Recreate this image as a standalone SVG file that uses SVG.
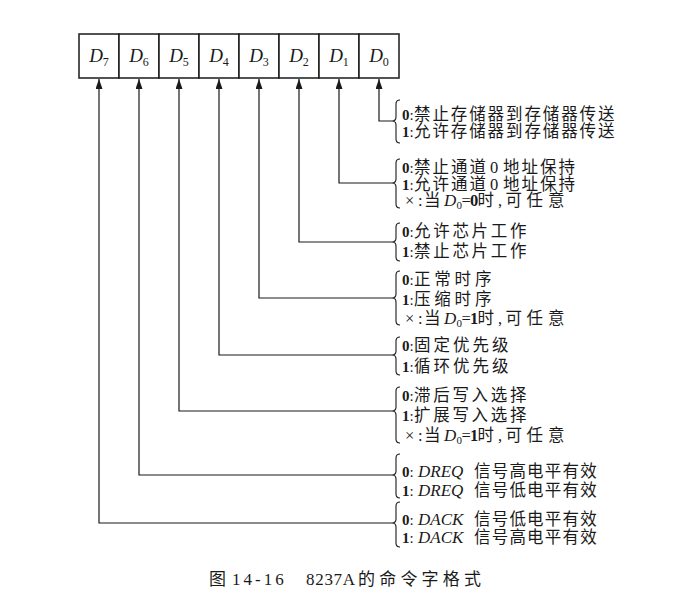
<svg xmlns="http://www.w3.org/2000/svg" width="679" height="613" viewBox="0 0 679 613">
<style>
.cell{fill:#fff;stroke:#1a1a1a;stroke-width:1.5}
.bitlabel{font-family:"Liberation Serif",serif;font-style:italic;font-size:19px;fill:#1a1a1a}
.sub{font-size:12px;font-style:normal}
.conn{fill:none;stroke:#1a1a1a;stroke-width:1.2}
.brace{fill:none;stroke:#1a1a1a;stroke-width:1.1}
.t{font-family:"Liberation Serif","Noto Sans CJK SC",serif;font-size:16.5px;fill:#1a1a1a}
.k{font-weight:bold;font-size:15px}
.kc{font-size:15px}
.b{font-weight:bold}
.c{font-family:"Noto Sans CJK SC",sans-serif}
.i{font-style:italic;font-size:17px}
.s{font-size:11px}
.cap{font-family:"Liberation Serif","Noto Sans CJK SC",serif;font-size:17px;fill:#1a1a1a}
.capc{font-family:"Noto Sans CJK SC",sans-serif;font-size:17px}
</style>
<defs>
<marker id="arr" markerUnits="userSpaceOnUse" markerWidth="10" markerHeight="7" refX="10" refY="3.5" orient="auto">
<path d="M0,0 L10,3.5 L0,7 z" fill="#1a1a1a"/>
</marker>
</defs>

<g id="register">
<g id="bit-D7"><rect class="cell" x="79" y="34" width="40" height="44"/><text class="bitlabel" x="99" y="62" text-anchor="middle">D<tspan class="sub" dy="4">7</tspan></text></g>
<g id="bit-D6"><rect class="cell" x="119" y="34" width="40" height="44"/><text class="bitlabel" x="139" y="62" text-anchor="middle">D<tspan class="sub" dy="4">6</tspan></text></g>
<g id="bit-D5"><rect class="cell" x="159" y="34" width="40" height="44"/><text class="bitlabel" x="179" y="62" text-anchor="middle">D<tspan class="sub" dy="4">5</tspan></text></g>
<g id="bit-D4"><rect class="cell" x="199" y="34" width="40" height="44"/><text class="bitlabel" x="219" y="62" text-anchor="middle">D<tspan class="sub" dy="4">4</tspan></text></g>
<g id="bit-D3"><rect class="cell" x="239" y="34" width="40" height="44"/><text class="bitlabel" x="259" y="62" text-anchor="middle">D<tspan class="sub" dy="4">3</tspan></text></g>
<g id="bit-D2"><rect class="cell" x="279" y="34" width="40" height="44"/><text class="bitlabel" x="299" y="62" text-anchor="middle">D<tspan class="sub" dy="4">2</tspan></text></g>
<g id="bit-D1"><rect class="cell" x="319" y="34" width="40" height="44"/><text class="bitlabel" x="339" y="62" text-anchor="middle">D<tspan class="sub" dy="4">1</tspan></text></g>
<g id="bit-D0"><rect class="cell" x="359" y="34" width="40" height="44"/><text class="bitlabel" x="379" y="62" text-anchor="middle">D<tspan class="sub" dy="4">0</tspan></text></g>
</g>

<g id="connectors">
<path class="conn" d="M392,121 H379 V79" marker-end="url(#arr)"/>
<path class="conn" d="M392,183 H339 V79" marker-end="url(#arr)"/>
<path class="conn" d="M392,242 H299 V79" marker-end="url(#arr)"/>
<path class="conn" d="M392,298 H259 V79" marker-end="url(#arr)"/>
<path class="conn" d="M392,355 H219 V79" marker-end="url(#arr)"/>
<path class="conn" d="M392,411 H179 V79" marker-end="url(#arr)"/>
<path class="conn" d="M392,475 H139 V79" marker-end="url(#arr)"/>
<path class="conn" d="M392,523 H99 V79" marker-end="url(#arr)"/>
</g>

<g id="desc-D0">
<path class="brace" d="M400,100 Q396,100 396,104 V117 Q396,121 392,121 Q396,121 396,125 V139 Q396,143 400,143"/>
<text class="t" x="402" y="120"><tspan class="k">0</tspan><tspan class="kc">:</tspan><tspan class="c" x="414 432.4 450.8 469.2 487.6 506 524.4 542.8 561.2 579.6 598">禁止存储器到存储器传送</tspan></text>
<text class="t" x="402" y="137"><tspan class="k">1</tspan><tspan class="kc">:</tspan><tspan class="c" x="414 432.4 450.8 469.2 487.6 506 524.4 542.8 561.2 579.6 598">允许存储器到存储器传送</tspan></text>
</g>

<g id="desc-D1">
<path class="brace" d="M400,159 Q396,159 396,163 V179 Q396,183 392,183 Q396,183 396,187 V204 Q396,208 400,208"/>
<text class="t" x="402" y="173"><tspan class="k">0</tspan><tspan class="kc">:</tspan><tspan class="c" x="414 432.5 451 469.5">禁止通道</tspan><tspan x="490">0</tspan><tspan class="c" x="503 521.5 540 558.5">地址保持</tspan></text>
<text class="t" x="402" y="190"><tspan class="k">1</tspan><tspan class="kc">:</tspan><tspan class="c" x="414 432.5 451 469.5">允许通道</tspan><tspan x="490">0</tspan><tspan class="c" x="503 521.5 540 558.5">地址保持</tspan></text>
<text class="t" x="405" y="206">×<tspan x="418">:</tspan><tspan class="c" x="424">当</tspan><tspan class="i" x="444">D</tspan><tspan class="s" x="456.5" dy="3">0</tspan><tspan x="461.5" dy="-3">=</tspan><tspan class="b" x="470">0</tspan><tspan class="c" x="477.5">时</tspan><tspan x="498">,</tspan><tspan class="c" x="505.5 526.5 548">可任意</tspan></text>
</g>

<g id="desc-D2">
<path class="brace" d="M400,223 Q396,223 396,227 V238 Q396,242 392,242 Q396,242 396,246 V257 Q396,261 400,261"/>
<text class="t" x="402" y="237"><tspan class="k">0</tspan><tspan class="kc">:</tspan><tspan class="c" x="414 433.2 452.4 471.6 490.8 510">允许芯片工作</tspan></text>
<text class="t" x="402" y="257"><tspan class="k">1</tspan><tspan class="kc">:</tspan><tspan class="c" x="414 433.2 452.4 471.6 490.8 510">禁止芯片工作</tspan></text>
</g>

<g id="desc-D3">
<path class="brace" d="M400,271 Q396,271 396,275 V294 Q396,298 392,298 Q396,298 396,302 V321 Q396,325 400,325"/>
<text class="t" x="402" y="285"><tspan class="k">0</tspan><tspan class="kc">:</tspan><tspan class="c" x="414 434.3 454.6 474.9">正常时序</tspan></text>
<text class="t" x="402" y="305"><tspan class="k">1</tspan><tspan class="kc">:</tspan><tspan class="c" x="414 434.3 454.6 474.9">压缩时序</tspan></text>
<text class="t" x="405" y="324">×<tspan x="418">:</tspan><tspan class="c" x="424">当</tspan><tspan class="i" x="444">D</tspan><tspan class="s" x="456.5" dy="3">0</tspan><tspan x="461.5" dy="-3">=</tspan><tspan class="b" x="470">1</tspan><tspan class="c" x="477.5">时</tspan><tspan x="498">,</tspan><tspan class="c" x="505.5 526.5 548">可任意</tspan></text>
</g>

<g id="desc-D4">
<path class="brace" d="M400,337 Q396,337 396,341 V351 Q396,355 392,355 Q396,355 396,359 V371 Q396,375 400,375"/>
<text class="t" x="402" y="351"><tspan class="k">0</tspan><tspan class="kc">:</tspan><tspan class="c" x="414 433.5 453 472.5 492">固定优先级</tspan></text>
<text class="t" x="402" y="372"><tspan class="k">1</tspan><tspan class="kc">:</tspan><tspan class="c" x="414 433.5 453 472.5 492">循环优先级</tspan></text>
</g>

<g id="desc-D5">
<path class="brace" d="M400,387 Q396,387 396,391 V407 Q396,411 392,411 Q396,411 396,415 V439 Q396,443 400,443"/>
<text class="t" x="402" y="401"><tspan class="k">0</tspan><tspan class="kc">:</tspan><tspan class="c" x="414 433.2 452.4 471.6 490.8 510">滞后写入选择</tspan></text>
<text class="t" x="402" y="421"><tspan class="k">1</tspan><tspan class="kc">:</tspan><tspan class="c" x="414 433.2 452.4 471.6 490.8 510">扩展写入选择</tspan></text>
<text class="t" x="405" y="441">×<tspan x="418">:</tspan><tspan class="c" x="424">当</tspan><tspan class="i" x="444">D</tspan><tspan class="s" x="456.5" dy="3">0</tspan><tspan x="461.5" dy="-3">=</tspan><tspan class="b" x="470">1</tspan><tspan class="c" x="477.5">时</tspan><tspan x="498">,</tspan><tspan class="c" x="505.5 526.5 548">可任意</tspan></text>
</g>

<g id="desc-D6">
<path class="brace" d="M400,454 Q396,454 396,458 V471 Q396,475 392,475 Q396,475 396,479 V494 Q396,498 400,498"/>
<text class="t" x="402" y="477"><tspan class="k">0</tspan><tspan class="kc">:</tspan><tspan class="i" x="418">DREQ</tspan><tspan class="c" x="474 491.7 509.4 527.1 544.8 562.5 580.2">信号高电平有效</tspan></text>
<text class="t" x="402" y="496"><tspan class="k">1</tspan><tspan class="kc">:</tspan><tspan class="i" x="418">DREQ</tspan><tspan class="c" x="474 491.7 509.4 527.1 544.8 562.5 580.2">信号低电平有效</tspan></text>
</g>

<g id="desc-D7">
<path class="brace" d="M400,502 Q396,502 396,506 V519 Q396,523 392,523 Q396,523 396,527 V543 Q396,547 400,547"/>
<text class="t" x="402" y="525"><tspan class="k">0</tspan><tspan class="kc">:</tspan><tspan class="i" x="418">DACK</tspan><tspan class="c" x="474 491.7 509.4 527.1 544.8 562.5 580.2">信号低电平有效</tspan></text>
<text class="t" x="402" y="543"><tspan class="k">1</tspan><tspan class="kc">:</tspan><tspan class="i" x="418">DACK</tspan><tspan class="c" x="474 491.7 509.4 527.1 544.8 562.5 580.2">信号高电平有效</tspan></text>
</g>

<g id="caption">
<text class="cap" y="585"><tspan class="capc" x="209">图</tspan><tspan x="232" letter-spacing="3">14-16</tspan><tspan x="306" letter-spacing="0.7">8237A</tspan><tspan class="capc" x="358 379.2 400.4 421.6 442.8 464">的命令字格式</tspan></text>
</g>
</svg>
